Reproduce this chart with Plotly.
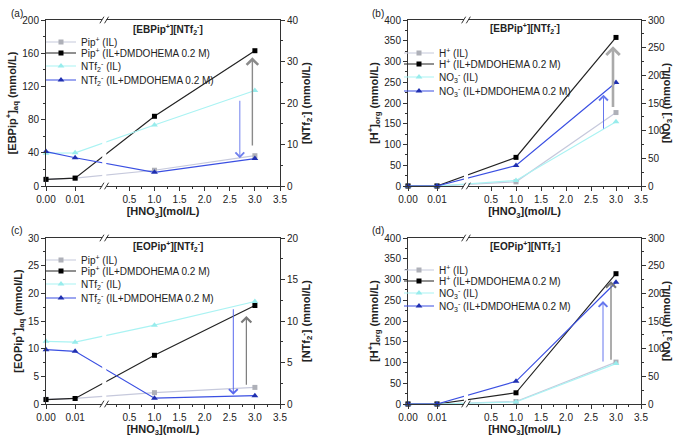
import plotly.graph_objects as go

# ---------------- data ----------------
x_hno3 = [0.00, 0.01, 1.0, 3.0]
x_ticks_left = [0.00, 0.01]
x_ticks_right = [0.5, 1.0, 1.5, 2.0, 2.5, 3.0, 3.5]
x_minor_right = [0.25, 0.75, 1.25, 1.75, 2.25, 2.75, 3.25]
x_tick_text = ["0.00", "0.01", "0.5", "1.0", "1.5", "2.0", "2.5", "3.0", "3.5"]

# (a) [EBPip+][NTf2-]  aqueous
a_pip_il = [8, 9.5, 19, 36.5]
a_pip_dm = [8, 9.5, 84, 163]
a_ntf_il = [7.9, 8.0, 14.7, 23.0]
a_ntf_dm = [8.3, 6.8, 3.3, 6.6]
# (b) [EBPip+][NTf2-]  organic
b_h_il = [0, 0, 10, 177]
b_h_dm = [0, 0, 69, 358]
b_no3_il = [0, 0, 10, 116]
b_no3_dm = [0, 0, 37, 187]
# (c) [EOPip+][NTf2-]  aqueous
c_pip_il = [0.85, 1.0, 2.05, 3.0]
c_pip_dm = [0.8, 1.0, 8.8, 17.8]
c_ntf_il = [7.55, 7.45, 9.5, 12.35]
c_ntf_dm = [6.55, 6.35, 0.7, 1.0]
# (d) [EOPip+][NTf2-]  organic
d_h_il = [0, 0, 6, 101]
d_h_dm = [0, 0, 27, 314]
d_no3_il = [0, 0, 3.6, 73]
d_no3_dm = [0, 0, 41, 220]

# arrows: [x, from, to]  (gray on left axis, blue on right axis)
a_arrow_gray = [2.95, 47, 155]
a_arrow_blue = [2.70, 20.9, 6.7]
b_arrow_gray = [2.94, 187, 337]
b_arrow_blue = [2.75, 101, 165]
c_arrow_gray = [2.83, 3.2, 15.9]
c_arrow_blue = [2.57, 11.6, 1.1]
d_arrow_gray = [2.90, 103, 296]
d_arrow_blue = [2.74, 74, 186]

# ---------------- broken x-axis scale ----------------
BREAK = 2.0            # display position of the axis break (left part: 0 .. 0.02)
K_RIGHT = 50.0 / 29.0  # display units per 1 mol/L in the right part


def disp(v):
    return v * 100.0 if v <= 0.02 else BREAK + v * K_RIGHT


X_MAX = disp(3.5)
FONT = "Liberation Sans, Arial, sans-serif"
W, H = 674, 437

GRAY_L, GRAY_M = "#c6c9dc", "#aeb0b8"
BLACK_L, BLACK_M = "#222222", "#000000"
CYAN_L, CYAN_M = "#aaf3f3", "#98ecec"
BLUE_L, BLUE_M = "#3a4fe2", "#1f2fb0"

fig = go.Figure()

# legend placement per panel: left x of entry, row centres (pixels)
panels = [
    dict(x="x", yl="y", yr="y2", lx=41, rows=[42, 53, 66, 80],
         series=[(a_pip_il, "Pip<sup>+</sup> (IL)", "L"), (a_pip_dm, "Pip<sup>+</sup> (IL+DMDOHEMA 0.2 M)", "L"),
                 (a_ntf_il, "NTf<sub>2</sub><sup>-</sup> (IL)", "R"), (a_ntf_dm, "NTf<sub>2</sub><sup>-</sup> (IL+DMDOHEMA 0.2 M)", "R")],
         arrows=(a_arrow_gray, a_arrow_blue), gw=1.4, gcol="#8a8a8a", bcol="#7080ee"),
    dict(x="x2", yl="y3", yr="y4", lx=399, rows=[53, 64, 77, 91],
         series=[(b_h_il, "H<sup>+</sup> (IL)", "L"), (b_h_dm, "H<sup>+</sup> (IL+DMDOHEMA 0.2 M)", "L"),
                 (b_no3_il, "NO<sub>3</sub><sup>-</sup> (IL)", "R"), (b_no3_dm, "NO<sub>3</sub><sup>-</sup> (IL+DMDOHEMA 0.2 M)", "R")],
         arrows=(b_arrow_gray, b_arrow_blue), gw=2.6, gcol="#aaaaaa", bcol="#6577ee"),
    dict(x="x3", yl="y5", yr="y6", lx=41, rows=[260, 271, 284, 298],
         series=[(c_pip_il, "Pip<sup>+</sup> (IL)", "L"), (c_pip_dm, "Pip<sup>+</sup> (IL+DMDOHEMA 0.2 M)", "L"),
                 (c_ntf_il, "NTf<sub>2</sub><sup>-</sup> (IL)", "R"), (c_ntf_dm, "NTf<sub>2</sub><sup>-</sup> (IL+DMDOHEMA 0.2 M)", "R")],
         arrows=(c_arrow_gray, c_arrow_blue), gw=1.2, gcol="#7a7a7a", bcol="#5868ee"),
    dict(x="x4", yl="y7", yr="y8", lx=399, rows=[270, 281, 293, 306],
         series=[(d_h_il, "H<sup>+</sup> (IL)", "L"), (d_h_dm, "H<sup>+</sup> (IL+DMDOHEMA 0.2 M)", "L"),
                 (d_no3_il, "NO<sub>3</sub><sup>-</sup> (IL)", "R"), (d_no3_dm, "NO<sub>3</sub><sup>-</sup> (IL+DMDOHEMA 0.2 M)", "R")],
         arrows=(d_arrow_gray, d_arrow_blue), gw=1.2, gcol="#777777", bcol="#6677ee"),
]

styles = [(GRAY_L, GRAY_M, "square"), (BLACK_L, BLACK_M, "square"),
          (CYAN_L, CYAN_M, "triangle-up"), (BLUE_L, BLUE_M, "triangle-up")]

xd = [disp(v) for v in x_hno3]
annotations = []
shapes = []
legends = {}
n_leg = 0
for p in panels:
    for (vals, name, side), (lc, mc, sym), ry in zip(p["series"], styles, p["rows"]):
        n_leg += 1
        lname = "legend" if n_leg == 1 else f"legend{n_leg}"
        legends[lname] = dict(x=p["lx"] / W, y=1 - ry / H, xanchor="left", yanchor="middle",
                              bgcolor="rgba(0,0,0,0)", borderwidth=0,
                              font=dict(family=FONT, size=10, color="#222"), itemwidth=30)
        fig.add_trace(go.Scatter(
            x=xd, y=vals, name=name, mode="lines+markers",
            xaxis=p["x"], yaxis=p["yl"] if side == "L" else p["yr"],
            line=dict(color=lc, width=1.2),
            marker=dict(color=mc, symbol=sym, size=5 if sym == "square" else 6),
            cliponaxis=False, legend=lname))
    ga, ba = p["arrows"]
    annotations.append(dict(x=disp(ga[0]), y=ga[2], ax=disp(ga[0]), ay=ga[1],
                            xref=p["x"], yref=p["yl"], axref=p["x"], ayref=p["yl"],
                            text="", showarrow=True, arrowhead=4,
                            arrowsize=1.6 if p["gw"] < 2 else 1.0,
                            arrowwidth=p["gw"], arrowcolor=p["gcol"], standoff=0))
    annotations.append(dict(x=disp(ba[0]), y=ba[2], ax=disp(ba[0]), ay=ba[1],
                            xref=p["x"], yref=p["yr"], axref=p["x"], ayref=p["yr"],
                            text="", showarrow=True, arrowhead=4, arrowsize=1.7,
                            arrowwidth=1, arrowcolor=p["bcol"], standoff=0))
    # axis break: white gap + "//" marks
    ydom = p["yl"] + " domain"
    shapes.append(dict(type="rect", xref=p["x"], yref=ydom, x0=BREAK - 0.07, x1=BREAK + 0.07,
                       y0=-0.03, y1=1.03, fillcolor="white", line=dict(width=0), layer="above"))
    for yy in (0.0, 1.0):
        for c in (BREAK - 0.08, BREAK + 0.08):
            shapes.append(dict(type="line", xref=p["x"], yref=ydom,
                               x0=c - 0.07, x1=c + 0.07, y0=yy - 0.02, y1=yy + 0.02,
                               line=dict(color="#333333", width=1), layer="above"))

tickvals = [disp(v) for v in x_ticks_left + x_ticks_right]
minorvals = [disp(v) for v in x_minor_right]


def xaxis_def(domain, anchor):
    return dict(domain=domain, anchor=anchor, range=[0, X_MAX], automargin=False,
                tickmode="array", tickvals=tickvals, ticktext=x_tick_text,
                ticks="outside", ticklen=4, tickcolor="#333", tickwidth=1,
                minor=dict(tickvals=minorvals, ticks="outside", ticklen=2, tickcolor="#333"),
                showline=True, linecolor="#333", linewidth=1, mirror=True,
                showgrid=False, zeroline=False,
                tickfont=dict(family=FONT, size=10, color="#222"),
                title=dict(text="[HNO<sub>3</sub>](mol/L)", standoff=3,
                           font=dict(family=FONT, size=11, color="#222", weight="bold")))


def yaxis_def(domain, anchor, rng, dtick, mdtick, title, side="left", overlay=None):
    d = dict(domain=domain, anchor=anchor, range=rng, dtick=dtick, tick0=0, automargin=False,
             ticks="outside", ticklen=4, tickcolor="#333",
             minor=dict(dtick=mdtick, tick0=0, ticks="outside", ticklen=2, tickcolor="#333"),
             showline=True, linecolor="#333", linewidth=1, showgrid=False, zeroline=False,
             side=side, tickfont=dict(family=FONT, size=10, color="#222"),
             title=dict(text=title, standoff=3,
                        font=dict(family=FONT, size=11, color="#222", weight="bold")))
    if overlay:
        d["overlaying"] = overlay
    return d


xl = [46 / W, 280 / W]
xr = [408 / W, 641 / W]
yt = [1 - 186 / H, 1 - 20 / H]
yb = [1 - 404 / H, 1 - 238 / H]

layout = dict(
    template="none",
    width=W, height=H, margin=dict(l=0, r=0, t=0, b=0, autoexpand=False),
    paper_bgcolor="white", plot_bgcolor="white",
    font=dict(family=FONT, size=10, color="#222"),
    xaxis=xaxis_def(xl, "y"), xaxis2=xaxis_def(xr, "y3"),
    xaxis3=xaxis_def(xl, "y5"), xaxis4=xaxis_def(xr, "y7"),
    yaxis=yaxis_def(yt, "x", [0, 200], 40, 20, "[EBPip<sup>+</sup>]<sub>aq</sub> (mmol/L)"),
    yaxis2=yaxis_def(yt, "x", [0, 40], 10, 5, "[NTf<sub>2</sub><sup>-</sup>] (mmol/L)", "right", "y"),
    yaxis3=yaxis_def(yt, "x2", [0, 400], 50, 25, "[H<sup>+</sup>]<sub>org</sub> (mmol/L)"),
    yaxis4=yaxis_def(yt, "x2", [0, 300], 50, 25, "[NO<sub>3</sub><sup>-</sup>] (mmol/L)", "right", "y3"),
    yaxis5=yaxis_def(yb, "x3", [0, 30], 5, 2.5, "[EOPip<sup>+</sup>]<sub>aq</sub> (mmol/L)"),
    yaxis6=yaxis_def(yb, "x3", [0, 20], 5, 2.5, "[NTf<sub>2</sub><sup>-</sup>] (mmol/L)", "right", "y5"),
    yaxis7=yaxis_def(yb, "x4", [0, 400], 50, 25, "[H<sup>+</sup>]<sub>org</sub> (mmol/L)"),
    yaxis8=yaxis_def(yb, "x4", [0, 300], 50, 25, "[NO<sub>3</sub><sup>-</sup>] (mmol/L)", "right", "y7"),
    showlegend=True,
    shapes=shapes,
)
layout.update(legends)

titles = [("[EBPip<sup>+</sup>][NTf<sub>2</sub><sup>-</sup>]", 168, 29),
          ("[EBPip<sup>+</sup>][NTf<sub>2</sub><sup>-</sup>]", 525, 28),
          ("[EOPip<sup>+</sup>][NTf<sub>2</sub><sup>-</sup>]", 168, 247),
          ("[EOPip<sup>+</sup>][NTf<sub>2</sub><sup>-</sup>]", 525, 247)]
for t, px, py in titles:
    annotations.append(dict(text=t, x=px / W, y=1 - py / H, xref="paper", yref="paper",
                            xanchor="center", yanchor="middle", showarrow=False,
                            font=dict(family=FONT, size=10, color="#222", weight="bold")))
for lab, px, py in [("(a)", 17, 13), ("(b)", 378, 13), ("(c)", 17, 231), ("(d)", 378, 231)]:
    annotations.append(dict(text=lab, x=px / W, y=1 - py / H, xref="paper", yref="paper",
                            xanchor="center", yanchor="middle", showarrow=False,
                            font=dict(family=FONT, size=10, color="#222")))
layout["annotations"] = annotations

fig.update_layout(**layout)
fig.write_html("out.html", config={"displayModeBar": False, "staticPlot": True},
               post_script="document.body.style.margin='0px';")
